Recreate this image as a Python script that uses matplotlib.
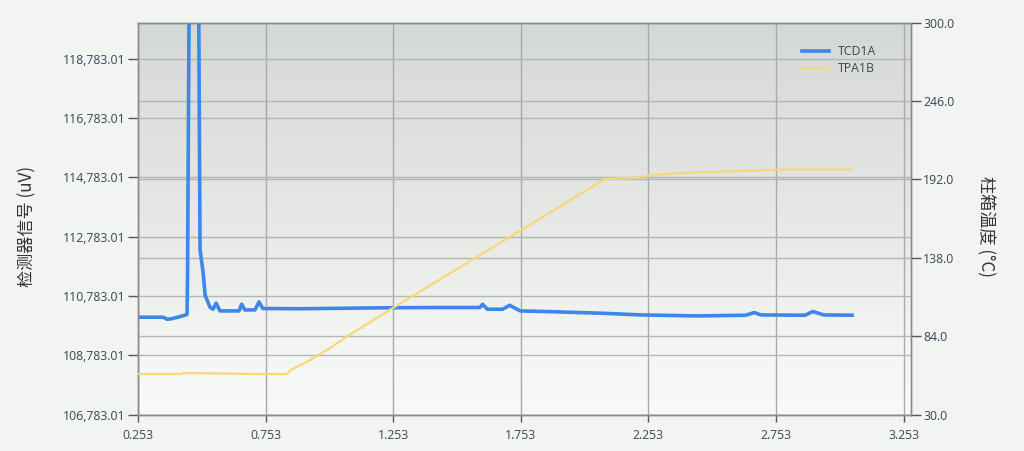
import numpy as np
import matplotlib
matplotlib.use('Agg')
import matplotlib.pyplot as plt
from matplotlib.colors import LinearSegmentedColormap
from matplotlib.transforms import blended_transform_factory

plt.rcParams['font.family'] = ['Noto Sans CJK SC', 'DejaVu Sans']
plt.rcParams['axes.unicode_minus'] = False

# TCD1A 检测器信号 (uV)
tcd_time = [0.253, 0.351, 0.367, 0.386, 0.437, 0.445, 0.447, 0.456, 0.472, 0.488, 0.496,
            0.508, 0.516, 0.535, 0.547, 0.559, 0.574, 0.649, 0.659, 0.672, 0.711,
            0.727, 0.742, 0.888, 1.252, 1.397, 1.592, 1.603, 1.622, 1.682, 1.709,
            1.751, 1.847, 2.071, 2.222, 2.447, 2.634, 2.668, 2.694, 2.867, 2.897,
            2.941, 3.051]
tcd_signal = [110070, 110070, 110002, 110019, 110137, 110170, 111459, 125000, 135000, 125000, 112350,
              111580, 110810, 110406, 110339, 110541, 110282, 110282, 110507, 110315, 110315,
              110584, 110363, 110356, 110390, 110396, 110396, 110507, 110339, 110339, 110473,
              110282, 110262, 110204, 110147, 110113, 110137, 110228, 110147, 110137, 110262,
              110147, 110137]

# TPA1B 柱箱温度 (°C)
tpa_time = [0.253, 0.424, 0.430, 0.743, 0.750, 0.836, 0.849, 0.927, 1.005, 1.095, 1.189,
            1.252, 2.083, 2.193, 2.251, 2.318, 2.436, 2.573, 2.780, 3.050]
tpa_temp = [58.0, 58.0, 58.7, 58.0, 58.0, 58.0, 60.5, 67.6, 75.9, 86.5, 96.6,
            103.5, 192.3, 193.0, 194.6, 195.8, 196.9, 197.6, 198.8, 198.8]

x_ticks = [0.253, 0.753, 1.253, 1.753, 2.253, 2.753, 3.253]
left_ticks = [106783.01, 108783.01, 110783.01, 112783.01, 114783.01, 116783.01, 118783.01]
right_ticks = [30.0, 84.0, 138.0, 192.0, 246.0, 300.0]

label_color = '#3a4454'

fig = plt.figure(figsize=(10.24, 4.51), dpi=100, facecolor='#f1f4f1')
ax = fig.add_axes([0.1348, 0.0805, 0.8894 - 0.1348, 0.9497 - 0.0805])
ax2 = ax.twinx()

# 背景渐变
cmap = LinearSegmentedColormap.from_list('bg', [(0.0, '#f8faf8'), (0.2, '#f3f5f3'), (0.4, '#eaecea'),
                                                (0.65, '#e1e3e1'), (0.85, '#dadddb'), (1.0, '#d3d8d5')])
grad = np.linspace(0, 1, 256).reshape(-1, 1)
ax.imshow(grad, extent=[0, 1, 0, 1], transform=ax.transAxes, aspect='auto',
          cmap=cmap, origin='lower', zorder=0)

ax.set_xlim(0.253, 3.281)
ax.set_ylim(106783.01, 120000)
ax2.set_ylim(30, 300)

# 网格
for xv in x_ticks:
    ax.axvline(xv, color='#a8aaa8', lw=1.0, zorder=1)
for yv in left_ticks:
    ax.axhline(yv, color='#b4b6b4', lw=1.0, zorder=1)
trans = blended_transform_factory(ax.transAxes, ax2.transData)
for yv in right_ticks:
    ax.plot([0, 1], [yv, yv], transform=trans, color='#b4b6b4', lw=1.0, zorder=1)

l1, = ax.plot(tcd_time, tcd_signal, color='#3d87ea', lw=2.6, label='TCD1A', zorder=3,
              solid_joinstyle='round')
l2, = ax2.plot(tpa_time, tpa_temp, color='#f6d977', lw=1.6, label='TPA1B', zorder=3)

ax.set_xticks(x_ticks)
ax.set_xticklabels([f'{v:.3f}' for v in x_ticks])
ax.set_yticks(left_ticks)
ax.set_yticklabels([f'{v:,.2f}' for v in left_ticks])
ax2.set_yticks(right_ticks)
ax2.set_yticklabels([f'{v:.1f}' for v in right_ticks])

tick_font = ['Open Sans', 'DejaVu Sans']
for lab in ax.get_xticklabels() + ax.get_yticklabels() + ax2.get_yticklabels():
    lab.set_family(tick_font)
    lab.set_fontsize(8.8)
    lab.set_color(label_color)

ax.tick_params(axis='y', length=7, width=1, color='#555555', pad=2)
ax.tick_params(axis='x', length=5, width=1, color='#555555', pad=5)
ax2.tick_params(axis='y', length=7, width=1, color='#555555', pad=2)

for a in (ax, ax2):
    for s in a.spines.values():
        s.set_color('#8a8c8a')
        s.set_linewidth(1.0)

ax.set_ylabel('检测器信号 (uV)', fontsize=12.3, color='#333333', va='center')
ax.yaxis.set_label_coords(-0.1437, 0.48)
ax2.set_ylabel('柱箱温度 (°C)', fontsize=12.3, color='#333333', rotation=270, va='center')
ax2.yaxis.set_label_coords(1.0975, 0.48)

leg = ax2.legend(handles=[l1, l2], loc='upper right', bbox_to_anchor=(0.97, 0.97),
                 frameon=False, handlelength=2.2, handletextpad=0.8,
                 labelspacing=0.3, prop={'family': tick_font, 'size': 8.8})
for t in leg.get_texts():
    t.set_color(label_color)

fig.savefig('out.png', dpi=100, facecolor=fig.get_facecolor())
